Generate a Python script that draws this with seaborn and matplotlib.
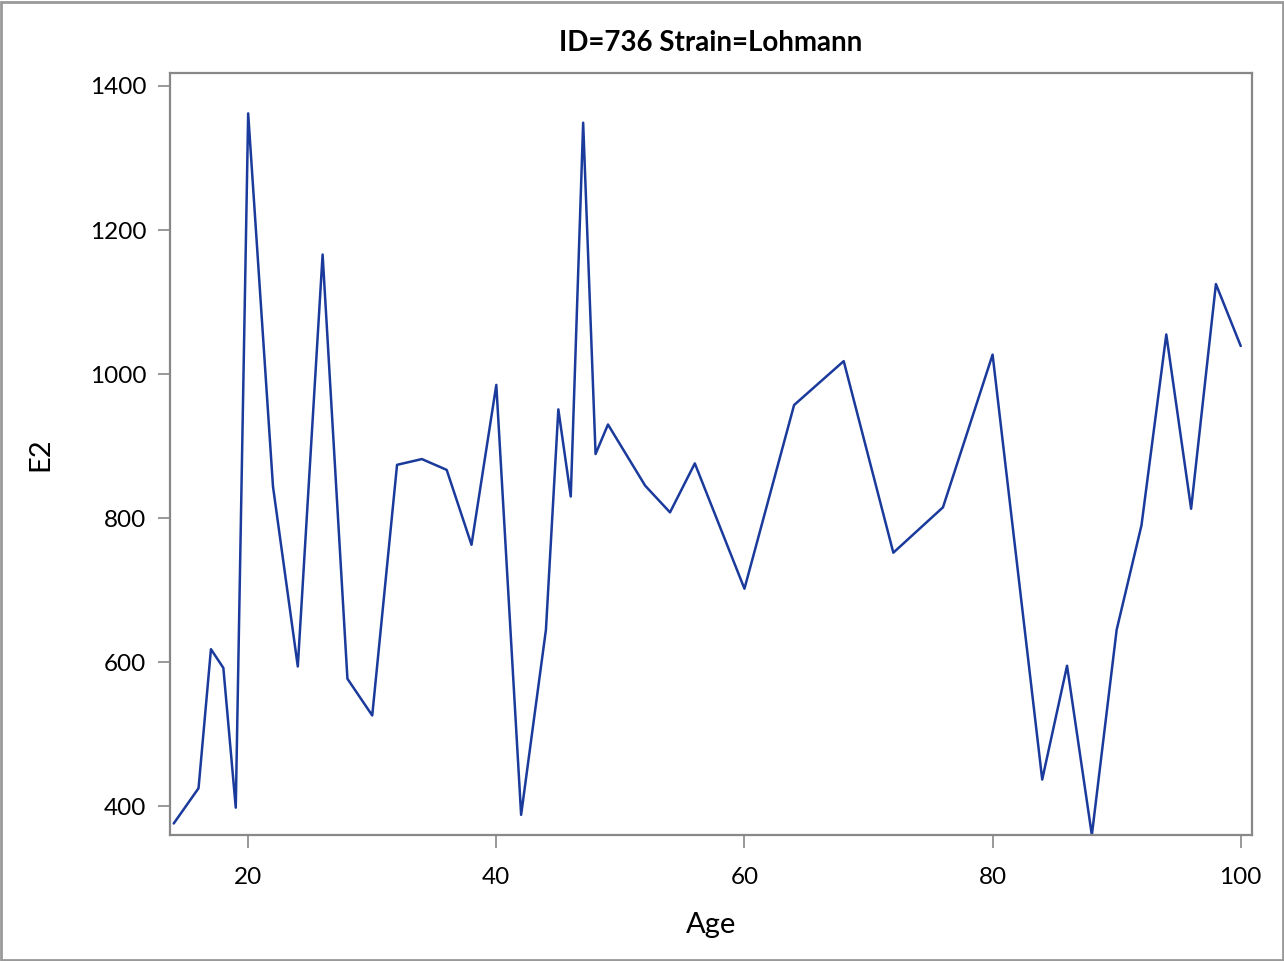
import numpy as np
import pandas as pd
import matplotlib
matplotlib.use("Agg")
import matplotlib.pyplot as plt
import seaborn as sns

# values
age = [14, 16, 17, 18, 19, 20, 22, 24, 26, 28, 30, 32, 34, 36, 38, 40, 42, 44, 45, 46,
       47, 48, 49, 52, 54, 56, 60, 64, 68, 72, 76, 80, 84, 86, 88, 90, 92, 94, 96, 98, 100]
e2 = [376, 425, 618, 592, 398, 1362, 844, 594, 1166, 577, 526, 874, 882, 867, 763, 985,
      388, 645, 951, 830, 1349, 889, 930, 845, 808, 876, 702, 957, 1018, 752, 815, 1027,
      437, 595, 360, 645, 790, 1055, 813, 1125, 1039]
x_ticks = [20, 40, 60, 80, 100]
y_ticks = [400, 600, 800, 1000, 1200, 1400]

df = pd.DataFrame({"Age": age, "E2": e2})

sns.set_style("white")
plt.rcParams["font.family"] = ["Lato", "DejaVu Sans"]
plt.rcParams["text.color"] = "black"
plt.rcParams["axes.labelcolor"] = "black"

fig = plt.figure(figsize=(12.84, 9.61), dpi=100)
ax = fig.add_axes([0.1324, 0.1311, 0.8426, 0.7929])

sns.lineplot(data=df, x="Age", y="E2", ax=ax, color="#1a3a9c", linewidth=1.8)

ax.set_xlim(13.7, 100.9)
ax.set_ylim(360, 1418)
ax.set_xticks(x_ticks)
ax.set_yticks(y_ticks)
ax.tick_params(axis="both", direction="out", length=9, width=1.2, color="#888888",
               labelcolor="black", labelsize=17.5, bottom=True, left=True)
ax.tick_params(axis="x", pad=14)
ax.tick_params(axis="y", pad=8)
for s in ax.spines.values():
    s.set_color("#888888")
    s.set_linewidth(1.6)

ax.set_xlabel("Age", fontsize=21, labelpad=17)
ax.set_ylabel("E2", fontsize=21, labelpad=26)
ax.set_title("ID=736 Strain=Lohmann", fontsize=20, fontweight="bold", pad=16)

# outer frame around the whole figure
fig.patches.append(plt.Rectangle((0.001, 0.001), 0.998, 0.997, transform=fig.transFigure,
                                 fill=False, edgecolor="#999999", linewidth=2))

fig.savefig("out.png", dpi=100)
